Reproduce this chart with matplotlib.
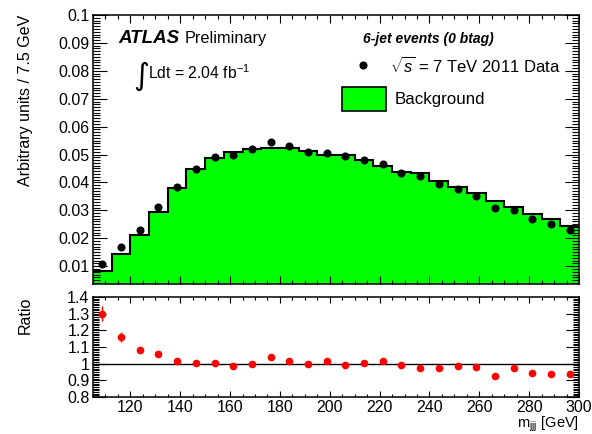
import numpy as np
import matplotlib
matplotlib.use("Agg")
import matplotlib.pyplot as plt
from matplotlib.ticker import MultipleLocator, FuncFormatter
from matplotlib.patches import Rectangle

# Binning of the three-jet invariant mass (GeV)
mjjj_min = 105.0
bin_width = 7.5
n_bins = 26

# Normalised background template per bin
background = [0.00835, 0.01444, 0.02125, 0.02950, 0.03790, 0.04480, 0.04885,
              0.05080, 0.05200, 0.05220, 0.05220, 0.05110, 0.04980, 0.04980,
              0.04800, 0.04590, 0.04380, 0.04330, 0.04060, 0.03820, 0.03610,
              0.03340, 0.03110, 0.02870, 0.02680, 0.02440]

# Normalised 2011 data per bin
data = [0.01084, 0.01675, 0.02304, 0.03127, 0.03854, 0.04493, 0.04900,
        0.04994, 0.05184, 0.05444, 0.05298, 0.05095, 0.05065, 0.04930,
        0.04814, 0.04677, 0.04332, 0.04213, 0.03950, 0.03763, 0.03527,
        0.03096, 0.03026, 0.02701, 0.02506, 0.02296]

# Statistical uncertainty on the data/background ratio
ratio_err = [0.045, 0.032, 0.016, 0.013, 0.011, 0.010, 0.010, 0.010, 0.010,
             0.010, 0.010, 0.010, 0.010, 0.010, 0.010, 0.011, 0.011, 0.011,
             0.012, 0.012, 0.012, 0.013, 0.013, 0.014, 0.014, 0.015]

edges = mjjj_min + bin_width * np.arange(n_bins + 1)
centers = 0.5 * (edges[:-1] + edges[1:])
bg = np.array(background)
dt = np.array(data)
ratio = dt / bg
rerr = np.array(ratio_err)
data_err = rerr * bg

plt.rcParams['font.family'] = ['Liberation Sans', 'DejaVu Sans']
plt.rcParams['mathtext.fontset'] = 'custom'
plt.rcParams['mathtext.rm'] = 'Liberation Sans'
plt.rcParams['mathtext.it'] = 'Liberation Sans:italic'
plt.rcParams['mathtext.bf'] = 'Liberation Sans:bold'
plt.rcParams['mathtext.sf'] = 'Liberation Sans'

W, H = 592, 434
fig = plt.figure(figsize=(W / 100, H / 100), dpi=100)
ax = fig.add_axes([93 / W, 1 - 284 / H, 486 / W, 269 / H])
rx = fig.add_axes([93 / W, 1 - 397 / H, 486 / W, 100 / H])

green = '#00ff00'
tick_fs = 11.5
label_fs = 11.5

# --- upper panel: background template and data ---
ax.stairs(bg, edges, fill=True, color=green, baseline=0, zorder=1)
ax.stairs(bg, edges, color='black', lw=1.5, baseline=None, zorder=2)
ax.errorbar(centers, dt, yerr=data_err, fmt='o', color='black', ms=4.8,
            elinewidth=1.0, capsize=0, zorder=3)

ax.set_xlim(edges[0], edges[-1])
ax.set_ylim(0.0036, 0.1)
ax.xaxis.set_major_locator(MultipleLocator(20))
ax.xaxis.set_minor_locator(MultipleLocator(5))
ax.yaxis.set_major_locator(MultipleLocator(0.01))
ax.yaxis.set_minor_locator(MultipleLocator(0.001))
ax.yaxis.set_major_formatter(FuncFormatter(lambda v, p: f"{v:g}"))
ax.tick_params(axis='x', labelbottom=False)
ax.tick_params(which='both', direction='in', top=True, right=True, width=0.8,
               labelsize=tick_fs, pad=2.5)
ax.tick_params(axis='y', which='major', length=10)
ax.tick_params(axis='y', which='minor', length=5)
ax.tick_params(axis='x', which='major', length=5.5)
ax.tick_params(axis='x', which='minor', length=2.8)
ax.set_ylabel('Arbitrary units / 7.5 GeV', loc='top', fontsize=label_fs)
ax.yaxis.set_label_coords(-0.123, 1.0)

# annotations
ax.text(0.0514, 0.9108, 'ATLAS', transform=ax.transAxes, fontsize=13.5,
        fontweight='bold', fontstyle='italic', va='center', ha='left')
ax.text(0.189, 0.9108, 'Preliminary', transform=ax.transAxes, fontsize=11.7,
        va='center', ha='left')
ax.text(0.083, 0.773, '\u222b', transform=ax.transAxes, fontsize=22,
        family='DejaVu Sans', va='center', ha='left')
ax.text(0.114, 0.784, 'Ldt = 2.04 fb$^{-1}$', transform=ax.transAxes,
        fontsize=11.3, va='center', ha='left')
ax.text(0.5556, 0.9108, '6-jet events (0 btag)', transform=ax.transAxes,
        fontsize=10, fontweight='bold', fontstyle='italic', va='center',
        ha='left')
ax.plot([0.5556], [0.8141], 'o', color='black', ms=4.8,
        transform=ax.transAxes, clip_on=False)
ax.text(0.611, 0.810, r'$\sqrt{s}$ = 7 TeV 2011 Data', transform=ax.transAxes,
        fontsize=12, va='center', ha='left')
ax.add_patch(Rectangle((0.5123, 0.6431), 0.0905, 0.0892, transform=ax.transAxes,
                       facecolor=green, edgecolor='black', lw=1.2, zorder=4))
ax.text(0.6214, 0.6877, 'Background', transform=ax.transAxes, fontsize=12.2,
        va='center', ha='left')

# --- lower panel: data / background ---
rx.axhline(1.0, color='black', lw=1.0, zorder=1)
rx.errorbar(centers, ratio, yerr=rerr, fmt='o', color='red', ms=4.5,
            elinewidth=1.0, capsize=0, zorder=3)
rx.set_xlim(edges[0], edges[-1])
rx.set_ylim(0.8, 1.4)
rx.xaxis.set_major_locator(MultipleLocator(20))
rx.xaxis.set_minor_locator(MultipleLocator(5))
rx.yaxis.set_major_locator(MultipleLocator(0.1))
rx.yaxis.set_minor_locator(MultipleLocator(0.01))
rx.yaxis.set_major_formatter(FuncFormatter(lambda v, p: f"{v:g}"))
rx.tick_params(which='both', direction='in', top=True, right=True, width=0.8,
               labelsize=tick_fs, pad=2.5)
rx.tick_params(axis='y', which='major', length=9.5)
rx.tick_params(axis='y', which='minor', length=4.5)
rx.tick_params(axis='x', which='major', length=4)
rx.tick_params(axis='x', which='minor', length=2)
rx.set_ylabel('Ratio', loc='top', fontsize=label_fs)
rx.yaxis.set_label_coords(-0.123, 1.0)
rx.set_xlabel(r'm$_{\mathrm{jjj}}$ [GeV]', loc='right', fontsize=10.5)
rx.xaxis.set_label_coords(1.0, -0.18)

for a in (ax, rx):
    for s in a.spines.values():
        s.set_linewidth(1.1)

fig.savefig('out.png', dpi=100)
